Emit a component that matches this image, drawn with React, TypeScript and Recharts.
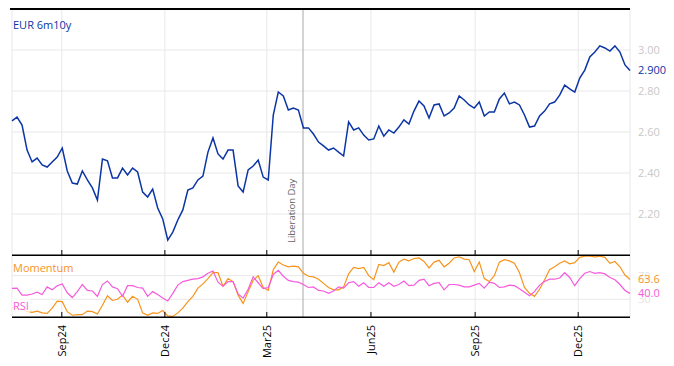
import React from "react"
import { LineChart, Line, XAxis, YAxis, CartesianGrid, ReferenceLine, ReferenceDot } from "recharts"

// EUR 6m10y swap rate, sampled roughly every 4.4 days from mid-Jul 2024
const eurRate = [
  2.654, 2.673, 2.634, 2.512, 2.454, 2.473, 2.439, 2.429, 2.454, 2.478,
  2.522, 2.41, 2.351, 2.346, 2.41, 2.366, 2.327, 2.268, 2.468, 2.459,
  2.376, 2.376, 2.424, 2.39, 2.424, 2.405, 2.307, 2.283, 2.322, 2.229,
  2.176, 2.073, 2.112, 2.171, 2.22, 2.317, 2.327, 2.366, 2.385, 2.502,
  2.571, 2.493, 2.468, 2.512, 2.512, 2.337, 2.307, 2.415, 2.434, 2.463,
  2.38, 2.366, 2.683, 2.795, 2.776, 2.707, 2.717, 2.707, 2.62, 2.62,
  2.59, 2.551, 2.532, 2.512, 2.522, 2.502, 2.483, 2.649, 2.61, 2.62,
  2.585, 2.561, 2.566, 2.629, 2.58, 2.61, 2.595, 2.624, 2.659, 2.639,
  2.702, 2.751, 2.727, 2.668, 2.732, 2.737, 2.678, 2.693, 2.717, 2.776,
  2.756, 2.732, 2.717, 2.746, 2.678, 2.698, 2.698, 2.761, 2.79, 2.737,
  2.746, 2.732, 2.683, 2.624, 2.629, 2.678, 2.702, 2.737, 2.746, 2.78,
  2.829, 2.81, 2.795, 2.863, 2.902, 2.966, 2.99, 3.02, 3.01, 2.995,
  3.02, 2.99, 2.927, 2.9,
]

const momentum = [
  16, 14, 14, 9, 8, 10, 7, 6, 15, 27,
  26, 9, 3, 4, 4, 10, 9, 5, 20, 36,
  28, 30, 37, 25, 35, 30, 7, 3, 7, 6,
  11, 2, 1, 7, 15, 26, 35, 49, 56, 65,
  75, 75, 52, 65, 60, 37, 23, 43, 62, 70,
  50, 45, 80, 93, 88, 85, 86, 85, 74, 69,
  68, 64, 57, 50, 46, 46, 51, 73, 84, 82,
  84, 70, 63, 89, 87, 92, 76, 93, 98, 95,
  99, 100, 94, 83, 93, 96, 85, 91, 100, 102,
  98, 97, 77, 93, 65, 60, 70, 93, 97, 95,
  91, 75, 50, 40, 35, 47, 63, 80, 85, 91,
  95, 90, 92, 101, 103, 103, 102, 103, 101, 91,
  94, 85, 71, 63.6,
]

const rsi = [
  48.6, 49, 37, 37, 39, 42, 38, 51, 46, 53,
  56, 41, 33, 43, 55, 45, 44, 35, 55, 61,
  51, 48, 35, 53, 53, 50, 49, 35, 43, 38,
  32, 27, 40, 54, 60, 62, 64, 65, 68, 74,
  78, 59, 52, 60, 60, 39, 32, 47, 68, 58,
  48, 50, 72, 79, 69, 62, 60, 59, 55, 50,
  51, 45, 44, 40, 44, 51, 49, 58, 60, 52,
  58, 50, 50, 58, 52, 58, 52, 55, 61, 53,
  54, 62, 64, 53, 57, 58, 46, 55, 55, 54,
  51, 51, 54, 57, 49, 59, 57, 50, 51, 54,
  53, 48, 42, 36, 43, 54, 60, 64, 64, 66,
  75, 67, 53, 65, 74, 77, 74, 75, 73, 67,
  63, 55, 45, 40,
]

const DAY = 86400000
const startDate = Date.UTC(2024, 6, 19)
const stepDays = 4.437

const tickDates = [
  Date.UTC(2024, 8, 1),
  Date.UTC(2024, 11, 1),
  Date.UTC(2025, 2, 1),
  Date.UTC(2025, 5, 1),
  Date.UTC(2025, 8, 1),
  Date.UTC(2025, 11, 1),
]
const liberationDay = Date.UTC(2025, 3, 2)

const MONTHS = ["Jan", "Feb", "Mar", "Apr", "May", "Jun", "Jul", "Aug", "Sep", "Oct", "Nov", "Dec"]
const fmtDate = (t: number) => {
  const d = new Date(t)
  return MONTHS[d.getUTCMonth()] + String(d.getUTCFullYear()).slice(2)
}

const rows = eurRate.map((v, i) => ({
  t: startDate + Math.round(i * stepDays * DAY),
  eur: v,
  mom: momentum[i],
  rsi: rsi[i],
}))
const last = rows[rows.length - 1]

const FONT = "'Open Sans', sans-serif"
const BLUE = "#0b35a5"
const ORANGE = "#f7941d"
const PINK = "#f55bdc"

// small inner tick mark only (top panel)
const MarkTick = (props: any) => {
  const { x, y } = props
  return <line x1={x} x2={x} y1={y} y2={y - 5} stroke="#000" />
}

// inner tick mark + rotated month label (bottom panel)
const RotatedTick = (props: any) => {
  const { x, y, payload } = props
  const bx = x + 4
  const by = y + 8
  return (
    <g>
      <line x1={x} x2={x} y1={y} y2={y - 5} stroke="#000" />
      <text x={bx} y={by} transform={`rotate(-90, ${bx}, ${by})`} textAnchor="end" fontSize={11} fill="#000" fontFamily={FONT}>
        {fmtDate(payload.value)}
      </text>
    </g>
  )
}

const LiberationLabel = (props: any) => {
  const { viewBox } = props
  const bx = viewBox.x - 8
  const by = 243
  return (
    <text x={bx} y={by} transform={`rotate(-90, ${bx}, ${by})`} textAnchor="start" fontSize={9.5} fill="#666" fontFamily={FONT}>
      Liberation Day
    </text>
  )
}

const frameLine = (top: number, left: number, h = 1) => ({
  position: "absolute" as const,
  left,
  top,
  width: 630 - left,
  height: h,
  background: "#000",
  zIndex: 5,
})

export default function App() {
  return (
    <div style={{ position: "absolute", left: 0, top: 0, width: 674, height: 366, background: "#fff", fontFamily: FONT }}>
      <div style={{ position: "absolute", left: 0, top: 0 }}>
        <LineChart width={674} height={256} data={rows} margin={{ top: 9, right: 0, bottom: 0, left: 12 }}>
          <CartesianGrid stroke="#e8e8e8" />
          <XAxis
            dataKey="t"
            type="number"
            domain={["dataMin", "dataMax"]}
            ticks={tickDates}
            interval={0}
            height={1}
            tickSize={0}
            tickMargin={0}
            tickLine={false}
            stroke="#000"
            tick={<MarkTick />}
          />
          <YAxis
            orientation="right"
            width={44}
            domain={[2.0, 3.2]}
            ticks={[2.2, 2.4, 2.6, 2.8, 3.0]}
            tickFormatter={(v: number) => v.toFixed(2)}
            axisLine={false}
            tickLine={false}
            tick={{ fill: "#c8c8c8", fontSize: 11, fontFamily: FONT }}
          />
          <ReferenceLine x={liberationDay} stroke="#aaaaaa" label={<LiberationLabel />} />
          <Line dataKey="eur" stroke={BLUE} strokeWidth={1.5} dot={false} isAnimationActive={false} />
          <ReferenceDot
            x={last.t}
            y={last.eur}
            r={0}
            ifOverflow="visible"
            label={{ value: last.eur.toFixed(3), position: "right", offset: 8, fill: BLUE, fontSize: 11, fontFamily: FONT }}
          />
        </LineChart>
      </div>
      <div style={{ position: "absolute", left: 0, top: 255 }}>
        <LineChart width={674} height={111} data={rows} margin={{ top: 0, right: 0, bottom: 0, left: 12 }}>
          <CartesianGrid stroke="#e8e8e8" />
          <XAxis
            dataKey="t"
            type="number"
            domain={["dataMin", "dataMax"]}
            ticks={tickDates}
            interval={0}
            height={49}
            tickSize={0}
            tickMargin={0}
            tickLine={false}
            stroke="#000"
            tick={<RotatedTick />}
          />
          <YAxis
            orientation="right"
            width={44}
            domain={[0, 105]}
            ticks={[30, 70]}
            axisLine={false}
            tickLine={false}
            tick={{ fill: "#e4e4e4", fontSize: 11, fontFamily: FONT }}
          />
          <ReferenceLine x={liberationDay} stroke="#aaaaaa" />
          <Line dataKey="mom" stroke={ORANGE} strokeWidth={1.2} dot={false} isAnimationActive={false} />
          <Line dataKey="rsi" stroke={PINK} strokeWidth={1.2} dot={false} isAnimationActive={false} />
          <ReferenceDot
            x={last.t}
            y={last.mom}
            r={0}
            ifOverflow="visible"
            label={{ value: last.mom.toFixed(1), position: "right", offset: 8, fill: ORANGE, fontSize: 11, fontFamily: FONT }}
          />
          <ReferenceDot
            x={last.t}
            y={last.rsi}
            r={0}
            ifOverflow="visible"
            label={{ value: last.rsi.toFixed(1), position: "right", offset: 8, fill: PINK, fontSize: 11, fontFamily: FONT }}
          />
        </LineChart>
      </div>
      <div style={frameLine(8, 10, 2)} />
      <div style={frameLine(255, 12)} />
      <div style={frameLine(317, 12)} />
      <div style={{ position: "absolute", left: 13, top: 17, fontSize: 11, color: BLUE }}>EUR 6m10y</div>
      <div style={{ position: "absolute", left: 13, top: 260, fontSize: 11, color: ORANGE }}>Momentum</div>
      <div style={{ position: "absolute", left: 12, top: 298, fontSize: 11, color: PINK, background: "rgba(255,255,255,0.75)", padding: "0 1px" }}>
        RSI
      </div>
    </div>
  )
}
